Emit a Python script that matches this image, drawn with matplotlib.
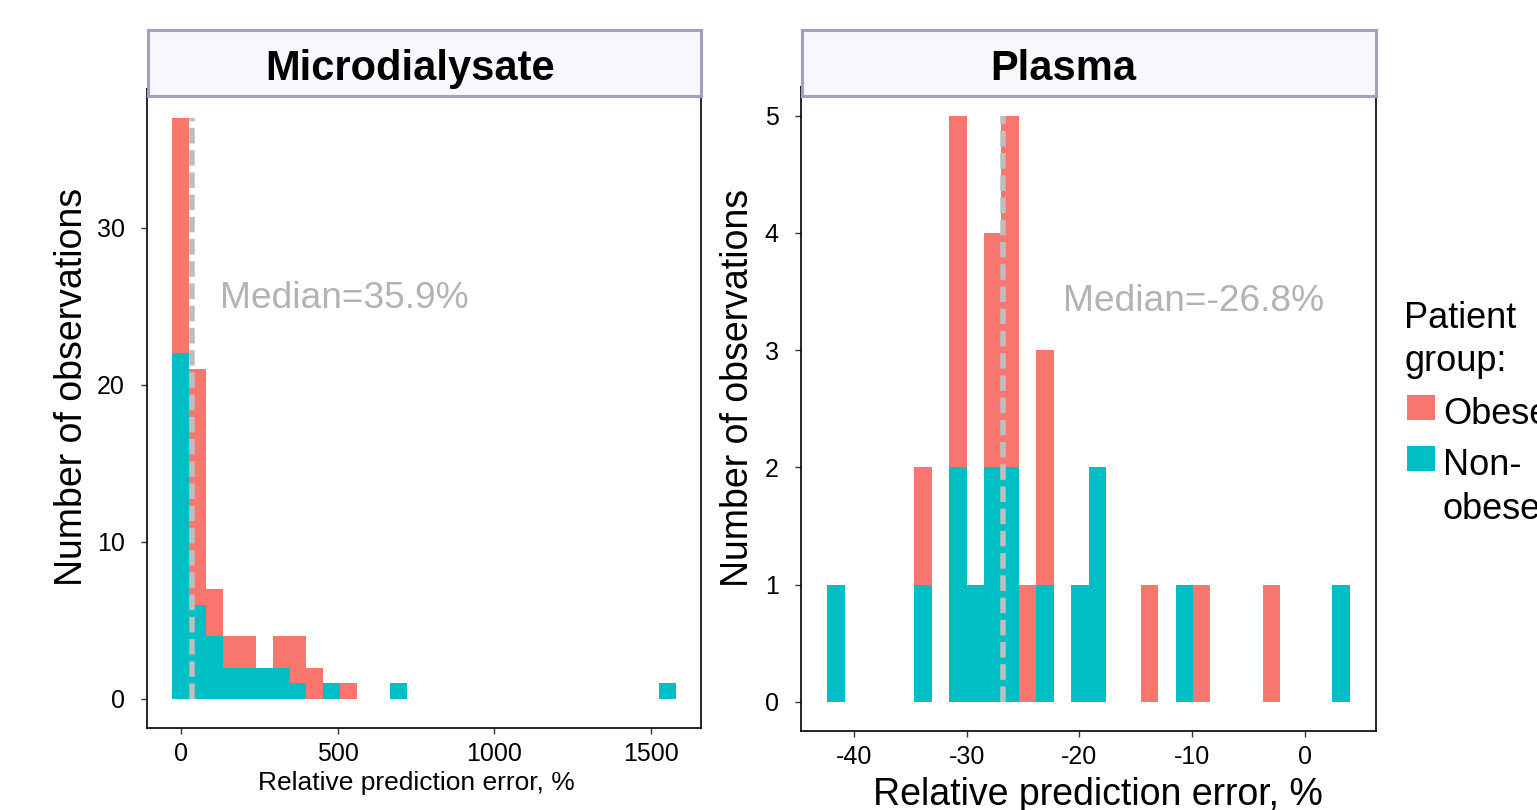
import numpy as np
import matplotlib
matplotlib.use("Agg")
import matplotlib.pyplot as plt
from matplotlib.patches import Rectangle

plt.rcParams['font.family'] = ['Liberation Sans', 'DejaVu Sans']
plt.rcParams['axes.unicode_minus'] = False

# ---- data (histogram counts per bin) ----
micro_start = -27.0
micro_binwidth = 53.5
micro_obese = [15, 15, 3, 2, 2, 0, 2, 3, 2, 0, 1, 0, 0, 0, 0,
               0, 0, 0, 0, 0, 0, 0, 0, 0, 0, 0, 0, 0, 0, 0]
micro_nonobese = [22, 6, 4, 2, 2, 2, 2, 1, 0, 1, 0, 0, 0, 1, 0,
                  0, 0, 0, 0, 0, 0, 0, 0, 0, 0, 0, 0, 0, 0, 1]
micro_median = 35.9

plasma_start = -42.4
plasma_binwidth = 1.547
plasma_obese = [0, 0, 0, 0, 0, 1, 0, 3, 0, 2, 3, 1, 2, 0, 0,
                0, 0, 0, 1, 0, 0, 1, 0, 0, 0, 1, 0, 0, 0, 0]
plasma_nonobese = [1, 0, 0, 0, 0, 1, 0, 2, 1, 2, 2, 0, 1, 0, 1,
                   2, 0, 0, 0, 0, 1, 0, 0, 0, 0, 0, 0, 0, 0, 1]
plasma_median = -26.8

groups = ["Obese", "Non-\nobese"]
colors = ["#F8766D", "#00BFC4"]
W, H = 1537, 810


def fig_rect(x0, y0, x1, y1):
    return [x0 / W, (H - y1) / H, (x1 - x0) / W, (y1 - y0) / H]


def draw_panel(fig, rect, strip_rect, title, title_x, start, bw, obese, nonobese, median,
               xticks, yticks, xlab_size, xlab_pos, ylab_x, med_text_pos):
    ax = fig.add_axes(rect)
    n = len(obese)
    edges = start + bw * np.arange(n)
    non = np.array(nonobese)
    ob = np.array(obese)
    ax.bar(edges, non, width=bw, align='edge', color=colors[1], linewidth=0)
    ax.bar(edges, ob, width=bw, align='edge', bottom=non, color=colors[0], linewidth=0)
    total = non + ob
    ax.vlines(median, 0, total.max(), colors='#BEBEBE', linewidth=4,
              linestyles=(0, (2.8, 1.2)), zorder=3)
    ax.text(med_text_pos[0], med_text_pos[1], "Median=%.1f%%" % median,
            transform=ax.transAxes, color='#B3B3B3', fontsize=26.7,
            ha='left', va='center')

    lo, hi = start, start + bw * n
    pad = 0.05 * (hi - lo)
    ax.set_xlim(lo - pad, hi + pad)
    ymax = total.max()
    ax.set_ylim(-0.05 * ymax, ymax * 1.05)
    ax.set_xticks(xticks)
    ax.set_yticks(yticks)
    ax.tick_params(axis='both', labelsize=18, length=4, width=1, color='#333333')
    ax.tick_params(axis='y', pad=12)
    ax.tick_params(axis='x', pad=6)
    for s in ax.spines.values():
        s.set_color('black')
        s.set_linewidth(1.2)
    ax.set_xlabel("Relative prediction error, %", fontsize=xlab_size)
    ax.xaxis.set_label_coords(xlab_pos[0], xlab_pos[1])
    ax.set_ylabel("Number of observations", fontsize=27)
    ax.yaxis.set_label_coords(ylab_x, 0.533)

    sax = fig.add_axes(strip_rect)
    sax.set_facecolor('#F7F7FC')
    sax.set_xticks([])
    sax.set_yticks([])
    for s in sax.spines.values():
        s.set_color('#A3A1C0')
        s.set_linewidth(2.2)
    sax.text(title_x, 0.4, title, transform=sax.transAxes, ha='center', va='center',
             fontsize=30, fontweight='bold')
    return ax


fig = plt.figure(figsize=(W / 100, H / 100), dpi=100)

draw_panel(fig, fig_rect(147, 88.6, 701, 728), fig_rect(147.5, 29.5, 700.5, 95.5),
           "Microdialysate", 0.475, micro_start, micro_binwidth, micro_obese, micro_nonobese,
           micro_median, [0, 500, 1000, 1500], [0, 10, 20, 30],
           19, (0.487, -0.067), -0.103, (0.132, 0.672))

draw_panel(fig, fig_rect(801, 86.5, 1376, 731), fig_rect(801.5, 29.5, 1375.5, 95.5),
           "Plasma", 0.456, plasma_start, plasma_binwidth, plasma_obese, plasma_nonobese,
           plasma_median, [-40, -30, -20, -10, 0], [0, 1, 2, 3, 4, 5],
           27, (0.517, -0.071), -0.078, (0.455, 0.667))

# ---- legend (drawn by hand so the key sits on the first label line) ----
def fx(px):
    return px / W


def fy(py):
    return (H - py) / H


legend_size = 26
fig.text(fx(1404), fy(328), "Patient", fontsize=legend_size, va='baseline', ha='left')
fig.text(fx(1404), fy(371), "group:", fontsize=legend_size, va='baseline', ha='left')
key_tops = [395, 446]
for i, (lab, col) in enumerate(zip(groups, colors)):
    top = key_tops[i]
    fig.patches.append(Rectangle((fx(1407), fy(top + 25)), 28 / W, 25 / H,
                                 transform=fig.transFigure, facecolor=col,
                                 edgecolor='none'))
    for j, line in enumerate(lab.split("\n")):
        fig.text(fx(1443), fy(top + 29 + 44 * j), line, fontsize=legend_size,
                 va='baseline', ha='left')

fig.savefig("out.png", dpi=100)
